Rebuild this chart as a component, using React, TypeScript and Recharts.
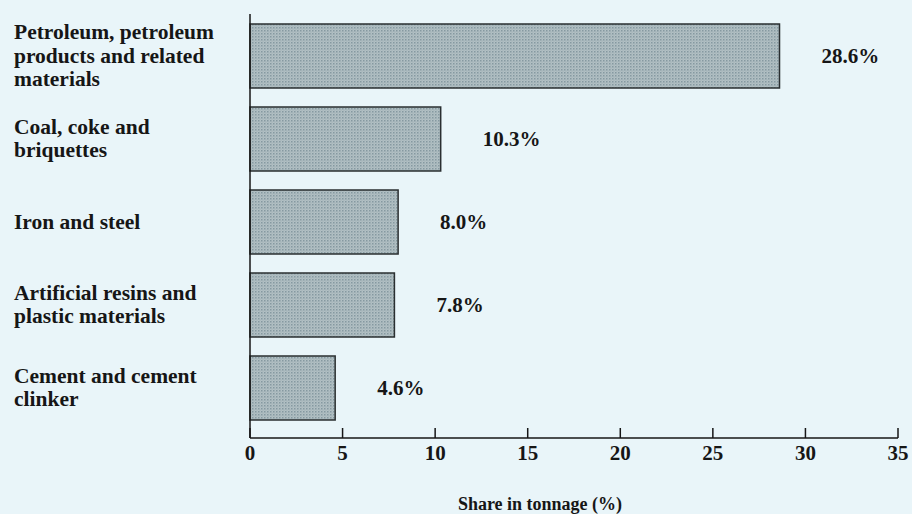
import React from 'react';
import { Bar, BarChart, LabelList, XAxis, YAxis } from 'recharts';

// commodity groups, top to bottom (line breaks as printed)
const categories = [
  'Petroleum, petroleum\nproducts and related\nmaterials',
  'Coal, coke and\nbriquettes',
  'Iron and steel',
  'Artificial resins and\nplastic materials',
  'Cement and cement\nclinker',
];
const shares = [28.6, 10.3, 8.0, 7.8, 4.6];
const xTicks = [0, 5, 10, 15, 20, 25, 30, 35];
const xTitle = 'Share in tonnage (%)';

const data = categories.map((name, i) => ({ name, share: shares[i] }));

const FONT = '"Liberation Serif", "Times New Roman", serif';
const INK = '#161616';

const CategoryTick = (props: any) => {
  const { y, payload } = props;
  const lines: string[] = String(payload.value).split('\n');
  const lh = 23.5;
  const start = -((lines.length - 1) / 2) * lh;
  return (
    <text
      x={14}
      y={y}
      textAnchor="start"
      fontFamily={FONT}
      fontWeight={700}
      fontSize={21.5}
      fill={INK}
    >
      {lines.map((l, i) => (
        <tspan key={i} x={14} dy={i === 0 ? start + 7 : lh}>
          {l}
        </tspan>
      ))}
    </text>
  );
};

const ValueTick = (props: any) => {
  const { x, y, payload } = props;
  return (
    <g>
      <line x1={x} y1={y} x2={x} y2={y - 10} stroke={INK} strokeWidth={1.5} />
      <text
        x={x}
        y={y + 22}
        textAnchor="middle"
        fontFamily={FONT}
        fontWeight={700}
        fontSize={21}
        fill={INK}
      >
        {payload.value}
      </text>
    </g>
  );
};

export default function App() {
  return (
    <div style={{ position: 'absolute', left: 0, top: 0, width: 912, height: 514, background: '#e9f5f9' }}>
      <BarChart
        layout="vertical"
        width={912}
        height={514}
        data={data}
        margin={{ top: 14, right: 14, bottom: 0, left: 0 }}
      >
        <defs>
          <pattern id="dots" width="3" height="3" patternUnits="userSpaceOnUse">
            <rect width="3" height="3" fill="#b2c0c4" />
            <rect width="1.5" height="1.5" fill="#8599a0" />
            <rect x="1.5" y="1.5" width="1" height="1" fill="#97a9ae" />
          </pattern>
        </defs>
        <XAxis
          type="number"
          domain={[0, 35]}
          ticks={xTicks}
          interval={0}
          height={76}
          tickLine={false}
          tickSize={0}
          tickMargin={0}
          tick={<ValueTick />}
          axisLine={{ stroke: INK, strokeWidth: 1.5 }}
          label={{
            value: xTitle,
            position: 'insideBottom',
            offset: 4,
            dx: -34,
            fontFamily: FONT,
            fontWeight: 700,
            fontSize: 18,
            fill: INK,
          }}
        />
        <YAxis
          type="category"
          dataKey="name"
          width={250}
          tickLine={false}
          tick={<CategoryTick />}
          interval={0}
          padding={{ top: 0, bottom: 9 }}
          axisLine={{ stroke: INK, strokeWidth: 1.5 }}
        />
        <Bar
          dataKey="share"
          barSize={64}
          fill="url(#dots)"
          stroke="#2a2f31"
          strokeWidth={1.5}
          isAnimationActive={false}
        >
          <LabelList
            dataKey="share"
            position="right"
            offset={42}
            formatter={(v: any) => `${Number(v).toFixed(1)}%`}
            fontFamily={FONT}
            fontWeight={700}
            fontSize={21}
            fill={INK}
          />
        </Bar>
      </BarChart>
    </div>
  );
}
